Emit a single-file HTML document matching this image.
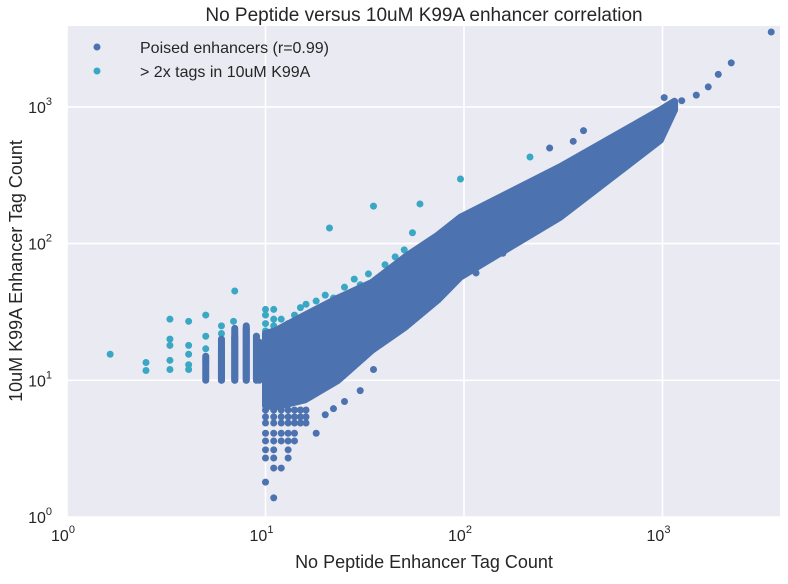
<!DOCTYPE html>
<html><head><meta charset="utf-8"><style>
body{margin:0;background:#fff;font-family:"Liberation Sans",sans-serif;}
svg text{font-family:"Liberation Sans",sans-serif;fill:#262626;}
</style></head><body>
<svg id="chart" width="788" height="579">
<rect x="67" y="26" width="713" height="491" fill="#EAEAF2"/>
<g id="grid"></g>
<g id="marks"></g>
<g id="ticks"></g>
<text x="424" y="21" text-anchor="middle" font-size="19">No Peptide versus 10uM K99A enhancer correlation</text>
<text x="424" y="568" text-anchor="middle" font-size="18">No Peptide Enhancer Tag Count</text>
<text transform="translate(22,271) rotate(-90)" text-anchor="middle" font-size="18">10uM K99A Enhancer Tag Count</text>
<g>
<g><circle cx="97" cy="47" r="3.5" fill="#4C72B0"/><text x="140" y="53" font-size="16">Poised enhancers (r=0.99)</text></g>
<g><circle cx="97" cy="71" r="3.5" fill="#3AA8C4"/><text x="140" y="77" font-size="16">&gt; 2x tags in 10uM K99A</text></g>
</g>
</svg>
<script>
const xTicks=[1,10,100,1000];
const yTicks=[1,10,100,1000];
const tickLabels=["0","1","2","3"];
// density envelope of the main cloud
const envX=[10,11.2,15.8,23.2,34.4,50.6,73.7,96,305,975,1150];
const envLow=[6.5,6.4,7.2,10,16.6,24.5,38.6,57,156,570,950];
const envHigh=[22,23,30,40,52,80,115,156,365,950,1100];
// discrete low-count points
const blueX=[10,11,12,13,14,15,16,10,11,12,13,14,15,16,10,11,12,13,14,15,16,10,11,12,13,14,10,11,12,13,14,10,11,13,10,11,13,11,12,10,11,18,20,22,25,30,35,3530,2220,1910,1700,1480,1250,1020,400,270,355,290,157,115];
const blueY=[6.06,6.06,6.06,6.06,6.06,6.06,6.06,5.4,5.4,5.4,5.4,5.4,5.4,5.4,4.87,4.87,4.87,4.87,4.87,4.87,4.87,4.1,4.1,4.1,4.1,4.1,3.6,3.6,3.6,3.6,3.6,3.1,3.1,3.1,2.7,2.7,2.7,2.28,2.28,1.8,1.38,4.1,5.6,6.2,7,8.4,12,3530,2100,1730,1400,1220,1110,1170,670,500,560,172,85,61];
const leftColX=[5,6,7,8,9,9.3,8,7,6];
const leftColLow=[10,10,10,10,10,10,10,10,10];
const leftColHigh=[15,17,21,24,21,19,25,24,20];
const cyanX=[1.65,2.5,2.5,3.3,3.3,3.3,3.3,3.3,4.1,4.1,4.1,4.1,4.1,5,5,5,5,6,6,6.9,7,7,8,8,9,9.3,10,10,10,10,11,11,11,12,12,13,13,14,15,16,18,20,21,22,25,28,30,33,35,40,45,50,55,60,96,215];
const cyanY=[15.5,13.5,11.8,28,20,18,14,12,27,18,15.5,13,12,30,21,17,14,25,22,27,45,20,24,20,21,19,33,30,26,23,33,28,25,28,24,26,23,30,34,36,38,42,130,40,48,55,50,60,188,70,80,90,120,195,297,430];
const SX=v=>67+198.5*Math.log10(v);
const SY=v=>517-136.7*Math.log10(v);
const ns="http://www.w3.org/2000/svg";
const grid=document.getElementById('grid'),marks=document.getElementById('marks'),ticks=document.getElementById('ticks');
function mk(tag,attrs,parent){const e=document.createElementNS(ns,tag);for(const k in attrs)e.setAttribute(k,attrs[k]);parent.appendChild(e);return e;}
xTicks.forEach((t,i)=>{
 const l=mk('line',{x1:SX(t),x2:SX(t),y1:26,y2:517,stroke:'#fff','stroke-width':1.6},grid);
 
 
 const tx=mk('text',{x:SX(t)-4,y:541,'text-anchor':'middle','font-size':16},ticks);
 
 
 tx.innerHTML='10<tspan dy="-8" font-size="11">'+tickLabels[i]+'</tspan>';
});
yTicks.forEach((t,i)=>{
 const l=mk('line',{x1:67,x2:780,y1:SY(t),y2:SY(t),stroke:'#fff','stroke-width':1.6},grid);
 
 
 const tx=mk('text',{x:52,y:SY(t)+6,'text-anchor':'end','font-size':16},ticks);
 
 
 tx.innerHTML='10<tspan dy="-8" font-size="11">'+tickLabels[i]+'</tspan>';
});
cyanX.forEach((x,i)=>{
 const c=mk('circle',{cx:SX(x),cy:SY(cyanY[i]),r:3.5,fill:'#3AA8C4'},marks);
 
 
});
let pts=envX.map((x,i)=>SX(x)+','+SY(envHigh[i]));
pts=pts.concat(envX.map((x,i)=>SX(x)+','+SY(envLow[i])).reverse());
const poly=mk('polygon',{points:pts.join(' '),fill:'#4C72B0',stroke:'#4C72B0','stroke-width':7,'stroke-linejoin':'round'},marks);


leftColX.forEach((x,i)=>{
 const l=mk('line',{x1:SX(x),x2:SX(x),y1:SY(leftColLow[i]),y2:SY(leftColHigh[i]),stroke:'#4C72B0','stroke-width':7,'stroke-linecap':'round'},marks);
 
 
});
blueX.forEach((x,i)=>{
 const c=mk('circle',{cx:SX(x),cy:SY(blueY[i]),r:3.5,fill:'#4C72B0'},marks);
 
 
});
</script>
</body></html>
